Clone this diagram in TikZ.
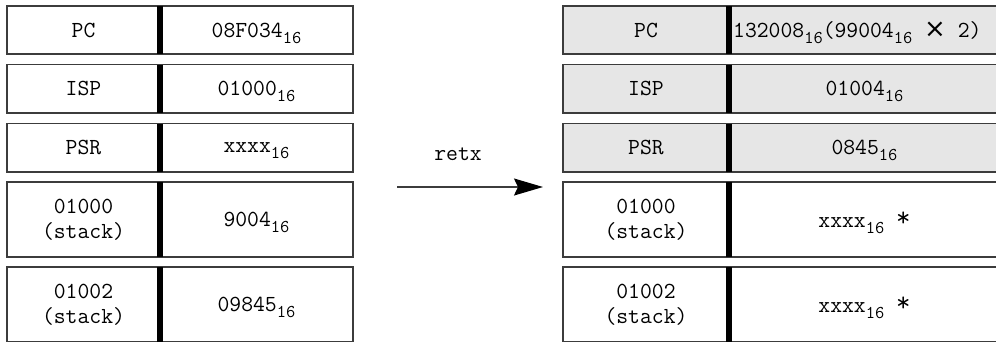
\documentclass[tikz,border=0pt]{standalone}
\usepackage{fontspec}
\newfontfamily\symfont{DejaVu Sans}
\usetikzlibrary{arrows.meta}
\definecolor{cellgray}{RGB}{230,230,230}
\definecolor{rule}{RGB}{60,60,60}
\newcommand\hx[2]{#1\raisebox{-6pt}[0pt][0pt]{\fontsize{18}{18}\selectfont #2}}
\newcommand\bigtimes{{\symfont\fontsize{26}{26}\selectfont ×}}
\newcommand\bigstar{\raisebox{1pt}{\fontsize{28}{28}\selectfont *}}
\begin{document}
\begin{tikzpicture}[x=1pt,y=-1pt,
  txt/.style={font=\ttfamily\fontsize{23}{25}\selectfont, align=center},
  cell/.style={txt, draw=rule, line width=1.5pt, inner sep=0pt, outer sep=0pt, anchor=north west},
  graycell/.style={cell, fill=cellgray},
  divider/.style={line width=6pt, black},
  arrowline/.style={draw=rule, line width=1.5pt, -{Stealth[length=29pt,width=17pt,inset=4pt,color=black]}}]
\useasboundingbox (0,0) rectangle (996,341);
\clip (0,0) rectangle (996,341);
% left table
\node[cell, minimum width=153pt, minimum height=48pt] (lpc) at (7,6) {PC};
\node[cell, minimum width=193pt, minimum height=48pt] (lpcv) at (160,6) {\hx{08F034}{16}};
\node[cell, minimum width=153pt, minimum height=48.5pt] (lisp) at (7,64.5) {ISP};
\node[cell, minimum width=193pt, minimum height=48.5pt] (lispv) at (160,64.5) {\hx{01000}{16}};
\node[cell, minimum width=153pt, minimum height=48.5pt] (lpsr) at (7,123.5) {PSR};
\node[cell, minimum width=193pt, minimum height=48.5pt] (lpsrv) at (160,123.5) {\hx{xxxx}{16}};
\node[cell, minimum width=153pt, minimum height=75pt] (ls1) at (7,182) {01000\\(stack)};
\node[cell, minimum width=193pt, minimum height=75pt] (ls1v) at (160,182) {\hx{9004}{16}};
\node[cell, minimum width=153pt, minimum height=75pt] (ls2) at (7,267) {01002\\(stack)};
\node[cell, minimum width=193pt, minimum height=75pt] (ls2v) at (160,267) {\hx{09845}{16}};
\foreach \r in {pc,isp,psr,s1,s2} \draw[divider] (l\r.north east) -- (l\r.south east);
% right table
\node[graycell, minimum width=166pt, minimum height=48pt] (rpc) at (563,6) {PC};
\node[graycell, minimum width=271pt, minimum height=48pt] (rpcv) at (729,6) {};
\node[txt, anchor=base west, inner sep=0pt] (rpct) at (733,37) {\hx{132008}{16}(\hx{99004}{16} \bigtimes{} 2)};
\node[graycell, minimum width=166pt, minimum height=48.5pt] (risp) at (563,64.5) {ISP};
\node[graycell, minimum width=271pt, minimum height=48.5pt] (rispv) at (729,64.5) {\hx{01004}{16}};
\node[graycell, minimum width=166pt, minimum height=48.5pt] (rpsr) at (563,123.5) {PSR};
\node[graycell, minimum width=271pt, minimum height=48.5pt] (rpsrv) at (729,123.5) {\hx{0845}{16}};
\node[cell, minimum width=166pt, minimum height=75pt] (rs1) at (563,182) {01000\\(stack)};
\node[cell, minimum width=271pt, minimum height=75pt] (rs1v) at (729,182) {\hx{xxxx}{16} \bigstar};
\node[cell, minimum width=166pt, minimum height=75pt] (rs2) at (563,267) {01002\\(stack)};
\node[cell, minimum width=271pt, minimum height=75pt] (rs2v) at (729,267) {\hx{xxxx}{16} \bigstar};
\foreach \r in {pc,isp,psr,s1,s2} \draw[divider] (r\r.north east) -- (r\r.south east);
% arrow
\coordinate (a1) at (397,187);
\coordinate (a2) at (543,187);
\draw[arrowline] (a1) -- (a2);
\node[txt, anchor=base, inner sep=0pt] (retx) at (458,160) {retx};
\end{tikzpicture}
\end{document}
